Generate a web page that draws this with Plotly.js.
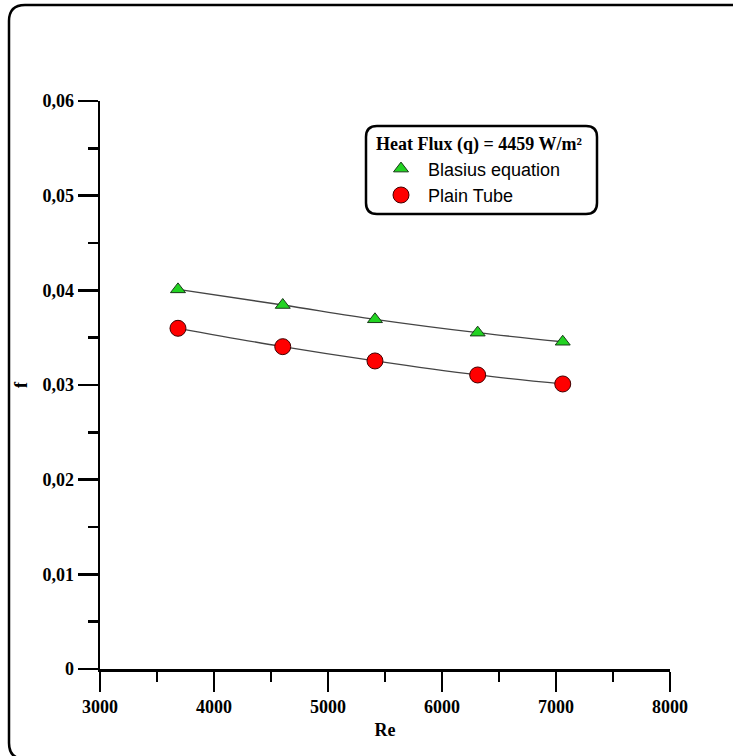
<!DOCTYPE html>
<html>
<head>
<meta charset="utf-8">
<script src="https://cdn.plot.ly/plotly-3.0.1.min.js"></script>
<style>html,body{margin:0;padding:0;background:#fff;}#chart{width:733px;height:756px;}</style>
</head>
<body>
<div id="chart"></div>
<script>
// Data
const reynolds = [3684, 4603, 5412, 6313, 7059];
const blasiusF = [0.0401, 0.03845, 0.03694, 0.03553, 0.03457];
const plainTubeF = [0.03599, 0.03405, 0.03254, 0.03106, 0.03011];
const seriesNames = ['Blasius equation', 'Plain Tube'];
const legendTitle = 'Heat Flux (q) = 4459 W/m²';

// Layout geometry (pixels)
const W = 733, H = 756;
const M = {l: 100, r: 63, t: 101, b: 87};
const pw = W - M.l - M.r, ph = H - M.t - M.b;
const px = x => (x - M.l) / pw;
const py = y => (H - M.b - y) / ph;
function roundRect(x0, y0, x1, y1, r) {
  const X = px, Y = py;
  return `M ${X(x0 + r)} ${Y(y0)} L ${X(x1 - r)} ${Y(y0)} Q ${X(x1)} ${Y(y0)} ${X(x1)} ${Y(y0 + r)} ` +
         `L ${X(x1)} ${Y(y1 - r)} Q ${X(x1)} ${Y(y1)} ${X(x1 - r)} ${Y(y1)} ` +
         `L ${X(x0 + r)} ${Y(y1)} Q ${X(x0)} ${Y(y1)} ${X(x0)} ${Y(y1 - r)} ` +
         `L ${X(x0)} ${Y(y0 + r)} Q ${X(x0)} ${Y(y0)} ${X(x0 + r)} ${Y(y0)} Z`;
}

const serifBold = {family: 'Liberation Serif, Times New Roman, serif', weight: 'bold', color: '#000'};

const traces = [
  {x: reynolds, y: blasiusF, mode: 'lines', line: {shape: 'spline', color: '#444', width: 1.3}, showlegend: false, hoverinfo: 'skip'},
  {x: reynolds, y: plainTubeF, mode: 'lines', line: {shape: 'spline', color: '#444', width: 1.3}, showlegend: false, hoverinfo: 'skip'},
  {x: reynolds, y: blasiusF, mode: 'markers', name: seriesNames[0],
   marker: {symbol: 'triangle-up', size: 13, color: '#22d322', line: {color: '#1a3a1a', width: 1}}},
  {x: reynolds, y: plainTubeF, mode: 'markers', name: seriesNames[1],
   marker: {symbol: 'circle', size: 16, color: '#ff0000', line: {color: '#400000', width: 1}}}
];

const axisCommon = {
  showline: true, linewidth: 2.5, linecolor: '#000', mirror: false,
  ticks: 'outside', ticklen: 20, tickwidth: 2.5, tickcolor: '#000',
  showgrid: false, zeroline: false,
  tickfont: Object.assign({size: 18}, serifBold)
};

const layout = {
  width: W, height: H,
  margin: M,
  paper_bgcolor: '#fff', plot_bgcolor: '#fff',
  separators: ', ',
  showlegend: true,
  xaxis: Object.assign({}, axisCommon, {
    range: [3000, 8000], dtick: 1000, tick0: 3000,
    minor: {ticks: 'outside', ticklen: 10, tickwidth: 2.5, tickcolor: '#000', dtick: 500, showgrid: false},
    title: {text: 'Re', font: Object.assign({size: 18}, serifBold), standoff: 8}
  }),
  yaxis: Object.assign({}, axisCommon, {
    range: [0, 0.06], dtick: 0.01, tick0: 0,
    minor: {ticks: 'outside', ticklen: 10, tickwidth: 2.5, tickcolor: '#000', dtick: 0.005, showgrid: false},
    title: {text: 'f', font: Object.assign({size: 18}, serifBold), standoff: 10}
  }),
  legend: {
    x: px(374), y: py(127), xanchor: 'left', yanchor: 'top',
    bgcolor: 'rgba(0,0,0,0)', borderwidth: 0,
    itemwidth: 44,
    font: {family: 'Liberation Sans, Arial, sans-serif', size: 18, color: '#000'},
    title: {text: legendTitle, side: 'top', font: Object.assign({size: 18}, serifBold)},
    tracegroupgap: 0
  },
  shapes: [
    {type: 'path', xref: 'paper', yref: 'paper', path: roundRect(9, 5, 748, 759, 16),
     line: {color: '#000', width: 2.5}, fillcolor: 'rgba(0,0,0,0)', layer: 'below'},
    {type: 'path', xref: 'paper', yref: 'paper', path: roundRect(366, 126, 597, 214, 11),
     line: {color: '#000', width: 2.5}, fillcolor: 'rgba(0,0,0,0)', layer: 'above'}
  ]
};

Plotly.newPlot('chart', traces, layout, {staticPlot: true, displayModeBar: false});
</script>
</body>
</html>
